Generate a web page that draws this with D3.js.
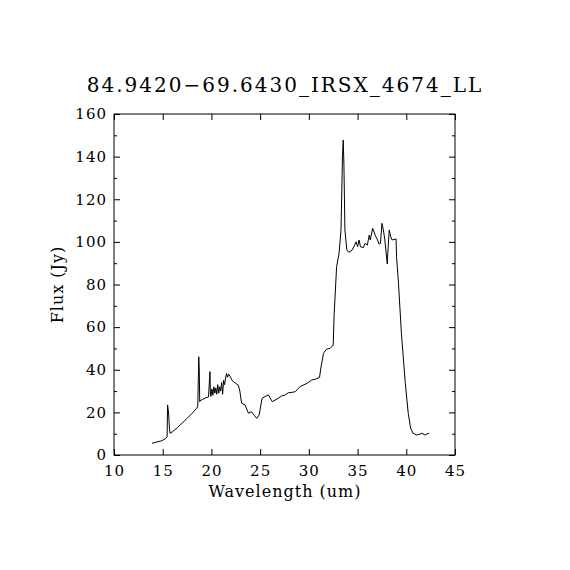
<!DOCTYPE html>
<html>
<head>
<meta charset="utf-8">
<script src="https://cdn.jsdelivr.net/npm/d3@7"></script>
<style>
  body { margin: 0; background: #fff; }
  text { font-family: "DejaVu Serif", serif; fill: #000; }
</style>
</head>
<body>
<div id="chart"></div>
<script>
// spectrum
const wavelength = [13.9, 14.9, 15.3, 15.45, 15.5, 15.6, 15.7, 15.75, 16.0, 16.5, 17.0, 17.5, 18.0, 18.5,
  18.6, 18.7, 18.75, 18.8, 18.85, 19.1, 19.45, 19.7, 19.85, 19.9, 19.95, 20.05, 20.15, 20.25, 20.35,
  20.45, 20.55, 20.65, 20.75, 20.85, 20.95, 21.05, 21.15, 21.25, 21.35, 21.45, 21.55, 21.65, 21.75,
  21.9, 22.1, 22.25, 22.5, 22.75, 22.9, 23.1, 23.45, 23.8, 24.1, 24.4, 24.65, 24.9, 25.2, 25.5, 25.85,
  26.25, 26.85, 27.2, 27.5, 27.9, 28.3, 28.6, 29.1, 29.8, 30.3, 30.7, 31.1, 31.2, 31.5, 31.8, 32.2,
  32.5, 32.6, 32.85, 33.1, 33.3, 33.45, 33.53, 33.6, 33.7, 33.9, 34.1, 34.45, 34.7, 34.85, 35.0, 35.15,
  35.3, 35.6, 35.75, 36.0, 36.2, 36.3, 36.55, 36.8, 37.05, 37.2, 37.35, 37.5, 37.65, 37.8, 38.05, 38.1,
  38.25, 38.4, 38.55, 38.95, 39.0, 39.2, 39.3, 39.5, 39.9, 40.2, 40.45, 40.7, 41.05, 41.3, 41.6, 41.9,
  42.1, 42.35];
const flux = [5.5, 6.7, 7.7, 8.5, 23.5, 19.7, 12.0, 10.2, 10.9, 12.8, 15.0, 17.2, 19.5, 21.9,
  23.0, 46.1, 40.0, 25.0, 25.5, 26.1, 26.9, 27.2, 39.1, 28.2, 27.5, 31.0, 28.0, 32.0, 29.0,
  31.5, 28.5, 33.0, 29.0, 32.0, 30.0, 34.0, 28.5, 35.0, 33.0, 36.0, 38.3, 36.5, 38.0,
  37.0, 35.2, 34.4, 33.6, 32.8, 30.5, 24.3, 23.5, 19.6, 20.3, 18.6, 17.2, 18.8, 26.6, 27.4, 28.2,
  25.0, 26.6, 27.7, 28.0, 29.2, 29.4, 29.7, 32.1, 33.6, 35.2, 35.6, 36.5, 39.9, 47.7, 49.6, 50.1,
  51.6, 66.5, 88.4, 94.6, 105.6, 140.0, 147.8, 136.0, 105.6, 96.2, 95.1, 96.2, 98.5, 100.1, 97.7, 100.9,
  97.7, 97.3, 99.3, 98.5, 103.2, 100.9, 106.4, 103.2, 100.9, 99.0, 99.3, 108.7, 105.6, 100.9, 89.6, 94.6,
  105.6, 102.4, 100.9, 101.4, 93.0, 80.6, 72.7, 57.1, 33.6, 19.6, 12.5, 10.2, 9.4, 9.6, 10.2, 9.4,
  9.8, 10.2];

const xTicks = [10, 15, 20, 25, 30, 35, 40, 45];
const yTicks = [0, 20, 40, 60, 80, 100, 120, 140, 160];
const yMinor = [10, 30, 50, 70, 90, 110, 130, 150];

const titleText = "84.9420\u221269.6430_IRSX_4674_LL";

const width = 570, height = 570;
const margin = {top: 114, right: 115, bottom: 115, left: 114};
const innerW = width - margin.left - margin.right;
const innerH = height - margin.top - margin.bottom;

const svg = d3.select("#chart").append("svg")
  .attr("width", width)
  .attr("height", height);

const x = d3.scaleLinear().domain([10, 45]).range([margin.left, margin.left + innerW]);
const y = d3.scaleLinear().domain([0, 160]).range([margin.top + innerH, margin.top]);

// ticks pointing inward on all four sides
const bottomAxis = d3.axisBottom(x).tickValues(xTicks).tickSize(-6).tickPadding(10).tickFormat(d3.format("d"));
const topAxis = d3.axisTop(x).tickValues(xTicks).tickSize(-6).tickFormat("");
const leftAxis = d3.axisLeft(y).tickValues(yTicks).tickSize(-6).tickPadding(7).tickFormat(d3.format("d"));
const rightAxis = d3.axisRight(y).tickValues(yTicks).tickSize(-6).tickFormat("");

function styleAxis(g) {
  g.select(".domain").remove();
  g.selectAll("line").attr("stroke", "#000").attr("stroke-width", 1);
  g.selectAll("text").style("font-size", "15px").style("letter-spacing", "1px").attr("fill", "#000");
}

svg.append("g").attr("transform", `translate(0,${y(0)})`).call(bottomAxis).call(styleAxis);
svg.append("g").attr("transform", `translate(0,${y(160)})`).call(topAxis).call(styleAxis);
svg.append("g").attr("transform", `translate(${x(10)},0)`).call(leftAxis).call(styleAxis);
svg.append("g").attr("transform", `translate(${x(45)},0)`).call(rightAxis).call(styleAxis);

// minor ticks on y only
svg.append("g").attr("transform", `translate(${x(10)},0)`)
  .call(d3.axisLeft(y).tickValues(yMinor).tickSize(-3).tickFormat("")).call(styleAxis);
svg.append("g").attr("transform", `translate(${x(45)},0)`)
  .call(d3.axisRight(y).tickValues(yMinor).tickSize(-3).tickFormat("")).call(styleAxis);

// frame
svg.append("rect")
  .attr("x", x(10)).attr("y", y(160))
  .attr("width", x(45) - x(10)).attr("height", y(0) - y(160))
  .attr("fill", "none").attr("stroke", "#000").attr("stroke-width", 1);

const points = wavelength.map((w, i) => [w, flux[i]]);
const line = d3.line().x(d => x(d[0])).y(d => y(d[1]));

svg.append("path")
  .datum(points)
  .attr("d", line)
  .attr("fill", "none")
  .attr("stroke", "#000")
  .attr("stroke-width", 1);

svg.append("text")
  .attr("x", width / 2).attr("y", 92)
  .attr("text-anchor", "middle")
  .style("font-size", "20px")
  .style("letter-spacing", "2px")
  .text(titleText);

svg.append("text")
  .attr("x", width / 2).attr("y", 497)
  .attr("text-anchor", "middle")
  .style("font-size", "16px")
  .style("letter-spacing", "1px")
  .text("Wavelength (um)");

svg.append("text")
  .attr("transform", `translate(63,${margin.top + innerH / 2}) rotate(-90)`)
  .attr("text-anchor", "middle")
  .style("font-size", "16px")
  .style("letter-spacing", "1px")
  .text("Flux (Jy)");
</script>
</body>
</html>
